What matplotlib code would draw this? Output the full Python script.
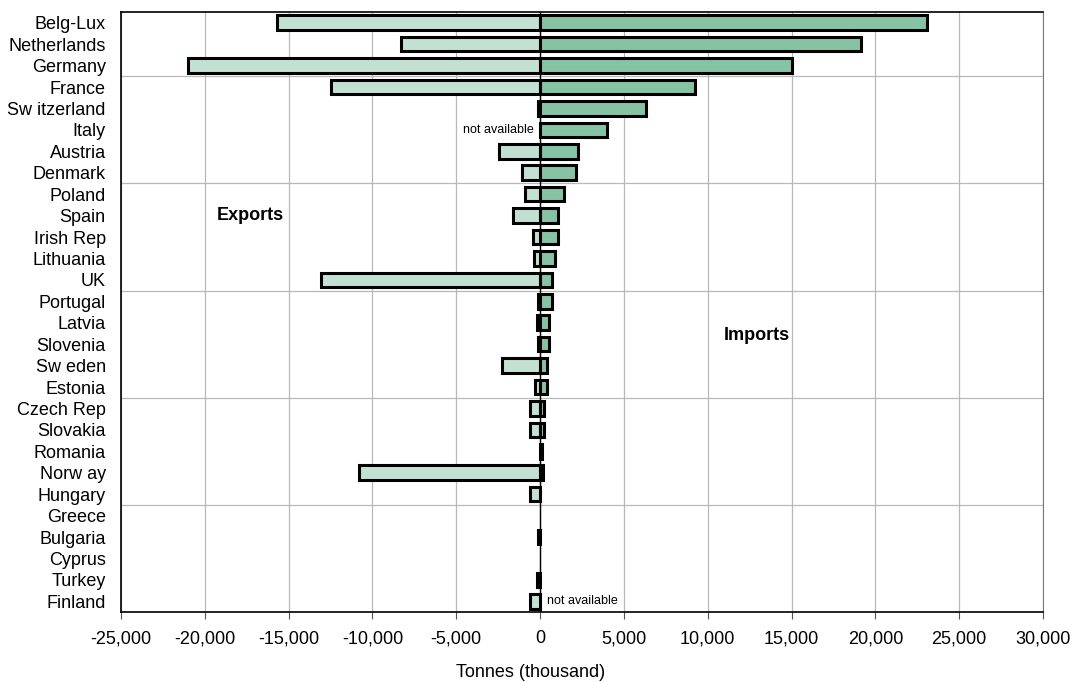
import numpy as np
import matplotlib
matplotlib.use("Agg")
import matplotlib.pyplot as plt
from matplotlib.ticker import FuncFormatter, MultipleLocator

plt.rcParams['font.family'] = ['Liberation Sans', 'DejaVu Sans']

# -------------------------
#  Dados (mil toneladas)
# -------------------------

countries = ['Belg-Lux', 'Netherlands', 'Germany', 'France', 'Sw itzerland', 'Italy',
             'Austria', 'Denmark', 'Poland', 'Spain', 'Irish Rep', 'Lithuania', 'UK',
             'Portugal', 'Latvia', 'Slovenia', 'Sw eden', 'Estonia', 'Czech Rep',
             'Slovakia', 'Romania', 'Norw ay', 'Hungary', 'Greece', 'Bulgaria',
             'Cyprus', 'Turkey', 'Finland']

exports = [-15700, -8300, -21000, -12500, -150, 0,
           -2450, -1100, -900, -1600, -400, -350, -13100,
           -150, -200, -150, -2250, -300, -600,
           -600, 0, -10800, -600, 0, -150,
           0, -200, -600]

imports = [23100, 19150, 15000, 9250, 6300, 3970,
           2250, 2150, 1450, 1050, 1050, 900, 700,
           700, 550, 500, 400, 400, 250,
           250, 120, 150, 0, 0, 0,
           0, 0, 0]

# -------------------------
#  Grafico
# -------------------------

fig = plt.figure(figsize=(10.71, 6.82), dpi=100)
ax = fig.add_axes([0.113, 0.1026, 0.8609, 0.8798])

y = np.arange(len(countries))
exp = np.array(exports)
imp = np.array(imports)

# so desenha barras com valor (zero = sem dado)
ax.barh(y[exp != 0], exp[exp != 0], height=0.68, color='#c3e1d3',
        edgecolor='black', linewidth=2.2, zorder=3)
ax.barh(y[imp != 0], imp[imp != 0], height=0.68, color='#86c3a5',
        edgecolor='black', linewidth=2.2, zorder=3)
ax.axvline(0, color='black', linewidth=1, zorder=4)

ax.set_xlim(-25000, 30000)
ax.set_ylim(len(countries) - 0.5, -0.5)
ax.xaxis.set_major_locator(MultipleLocator(5000))
ax.xaxis.set_major_formatter(FuncFormatter(lambda v, p: f'{int(v):,}'))
ax.set_yticks(y)
ax.set_yticklabels(countries)
ax.set_yticks(np.arange(2.5, len(countries), 5), minor=True)

ax.grid(True, axis='x', color='#b8b8b8', linewidth=0.9, zorder=0)
ax.grid(True, axis='y', which='minor', color='#b8b8b8', linewidth=0.9, zorder=0)
ax.tick_params(axis='y', which='both', length=0, labelsize=13, pad=11)
ax.tick_params(axis='x', length=5, labelsize=13, pad=8, color='#555555')

for s in ['left', 'bottom', 'top']:
    ax.spines[s].set_color('black')
    ax.spines[s].set_linewidth(1.2)
ax.spines['right'].set_color('#777777')

ax.set_xlabel('Tonnes (thousand)', fontsize=13)
ax.xaxis.set_label_coords((531 - 121) / 922, -0.086)

ax.text(-17300, 9, 'Exports', fontsize=13, fontweight='bold', ha='center', va='center')
ax.text(12900, 14.6, 'Imports', fontsize=13, fontweight='bold', ha='center', va='center')
ax.text(-400, 5, 'not available', fontsize=9, ha='right', va='center', zorder=5)
ax.text(400, 27, 'not available', fontsize=9, ha='left', va='center', zorder=5)

plt.savefig('out.png', dpi=100)
